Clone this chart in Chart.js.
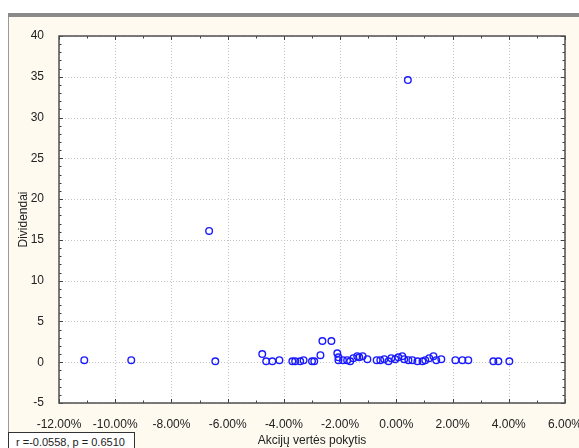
<!DOCTYPE html>
<html>
<head>
<meta charset="utf-8">
<script src="https://cdn.jsdelivr.net/npm/chart.js@4/dist/chart.umd.min.js"></script>
<style>
  html, body { margin: 0; padding: 0; background: #fff; }
  #wrap { position: relative; width: 579px; height: 448px; overflow: hidden; }
  #stats {
    position: absolute; left: 8px; top: 432px; width: 127px; height: 20px;
    background: #fff; border: 1px solid #333; box-sizing: border-box;
    font: 11px "Liberation Sans", Arial, sans-serif; color: #222;
    padding: 3px 0 0 7px; white-space: nowrap;
  }
</style>
</head>
<body>
<div id="wrap">
  <canvas id="c" width="579" height="448"></canvas>
  <div id="stats">r =-0.0558, p = 0.6510</div>
</div>
<script>
// stock price change (%) vs dividends
const priceChange = [
  -11.1, -9.43, -6.66, -6.44, -4.77, -4.63, -4.41, -4.16, -3.7, -3.6,
  -3.42, -3.3, -3.0, -2.92, -2.7, -2.63, -2.31, -2.1, -2.06, -2.06,
  -1.9, -1.75, -1.64, -1.53, -1.39, -1.32, -1.2, -1.03, -0.7, -0.57,
  -0.43, -0.28, -0.18, -0.04, 0.07, 0.21, 0.28, 0.41, 0.43, 0.57,
  0.75, 0.93, 1.03, 1.17, 1.32, 1.42, 1.6, 2.1, 2.35, 2.56,
  3.45, 3.63, 4.02
];
const dividends = [
  0.25, 0.25, 16.1, 0.12, 1.0, 0.12, 0.12, 0.25, 0.12, 0.12,
  0.12, 0.25, 0.12, 0.12, 0.86, 2.6, 2.6, 1.1, 0.6, 0.25,
  0.25, 0.25, 0.12, 0.5, 0.74, 0.6, 0.74, 0.37, 0.25, 0.25,
  0.37, 0.12, 0.5, 0.37, 0.6, 0.74, 0.37, 34.6, 0.25, 0.25,
  0.12, 0.12, 0.25, 0.5, 0.74, 0.25, 0.37, 0.25, 0.25, 0.25,
  0.12, 0.12, 0.12
];
const xTicks = [-12, -10, -8, -6, -4, -2, 0, 2, 4, 6];
const yTicks = [-5, 0, 5, 10, 15, 20, 25, 30, 35, 40];
const xTitle = 'Akcijų vertės pokytis';
const yTitle = 'Dividendai';

const points = priceChange.map((x, i) => ({x: x, y: dividends[i]}));
const font = {family: '"Liberation Sans", Arial, sans-serif', size: 12};

// background, dotted grid, frame with inward ticks
const frame = {
  id: 'frame',
  beforeDraw(chart) {
    const ctx = chart.ctx;
    const a = chart.chartArea;
    const xs = chart.scales.x, ys = chart.scales.y;
    ctx.save();
    ctx.fillStyle = '#ffffff';
    ctx.fillRect(0, 0, 579, 448);
    ctx.fillStyle = '#fffaf0';
    ctx.fillRect(8, 17, 571, 431);
    ctx.fillStyle = '#8a8a8a';
    ctx.fillRect(8, 13, 571, 4);
    ctx.fillStyle = '#9a9a9a';
    ctx.fillRect(8, 17, 1, 431);
    ctx.fillStyle = '#ffffff';
    ctx.fillRect(a.left, a.top, a.right - a.left, a.bottom - a.top);
    // dotted grid
    ctx.strokeStyle = '#c4c4c4';
    ctx.lineWidth = 1;
    ctx.setLineDash([1, 2]);
    xTicks.forEach(v => {
      const px = Math.round(xs.getPixelForValue(v)) + 0.5;
      ctx.beginPath(); ctx.moveTo(px, a.top); ctx.lineTo(px, a.bottom); ctx.stroke();
    });
    yTicks.forEach(v => {
      const py = Math.round(ys.getPixelForValue(v)) + 0.5;
      ctx.beginPath(); ctx.moveTo(a.left, py); ctx.lineTo(a.right, py); ctx.stroke();
    });
    ctx.restore();
  },
  afterDatasetsDraw(chart) {
    const ctx = chart.ctx;
    const a = chart.chartArea;
    const xs = chart.scales.x, ys = chart.scales.y;
    ctx.save();
    ctx.strokeStyle = '#404040';
    ctx.lineWidth = 1;
    for (let v = -12; v <= 6; v += 1) {
      const px = Math.round(xs.getPixelForValue(v)) + 0.5;
      const len = v % 2 === 0 ? 4 : 2.5;
      ctx.beginPath();
      ctx.moveTo(px, a.bottom); ctx.lineTo(px, a.bottom - len);
      ctx.moveTo(px, a.top); ctx.lineTo(px, a.top + len);
      ctx.stroke();
    }
    for (let v = -5; v <= 40; v += 1) {
      const py = Math.round(ys.getPixelForValue(v)) + 0.5;
      const len = v % 5 === 0 ? 4 : 2.5;
      ctx.beginPath();
      ctx.moveTo(a.left, py); ctx.lineTo(a.left + len, py);
      ctx.moveTo(a.right, py); ctx.lineTo(a.right - len, py);
      ctx.stroke();
    }
    ctx.lineWidth = 1.5;
    ctx.strokeStyle = '#505050';
    ctx.strokeRect(a.left, a.top, a.right - a.left, a.bottom - a.top);
    ctx.restore();
  }
};

new Chart(document.getElementById('c'), {
  type: 'scatter',
  data: {
    datasets: [{
      data: points,
      pointStyle: 'circle',
      pointRadius: 3.3,
      pointBorderWidth: 1.4,
      pointBorderColor: '#1a1aff',
      pointBackgroundColor: 'rgba(0,0,0,0)'
    }]
  },
  options: {
    responsive: false,
    animation: false,
    layout: {padding: {top: 36, right: 14, left: 0, bottom: 0}},
    plugins: {legend: {display: false}, tooltip: {enabled: false}},
    scales: {
      x: {
        type: 'linear', min: -12, max: 6,
        afterBuildTicks: s => { s.ticks = xTicks.map(v => ({value: v})); },
        afterFit: s => { s.height = 45; s.paddingLeft = 0; s.paddingRight = 0; },
        ticks: {
          font: font, color: '#222', padding: 6, maxRotation: 0,
          callback: v => v.toFixed(2) + '%'
        },
        grid: {display: false},
        border: {display: false},
        title: {display: true, text: xTitle, font: font, color: '#222', padding: {top: 0, bottom: 0}}
      },
      y: {
        type: 'linear', min: -5, max: 40,
        afterBuildTicks: s => { s.ticks = yTicks.map(v => ({value: v})); },
        afterFit: s => { s.width = 59; s.paddingTop = 0; s.paddingBottom = 0; },
        ticks: {font: font, color: '#222', padding: 7},
        grid: {display: false},
        border: {display: false},
        title: {display: true, text: yTitle, font: font, color: '#222', padding: {top: 16, bottom: 0}}
      }
    }
  },
  plugins: [frame]
});
</script>
</body>
</html>
